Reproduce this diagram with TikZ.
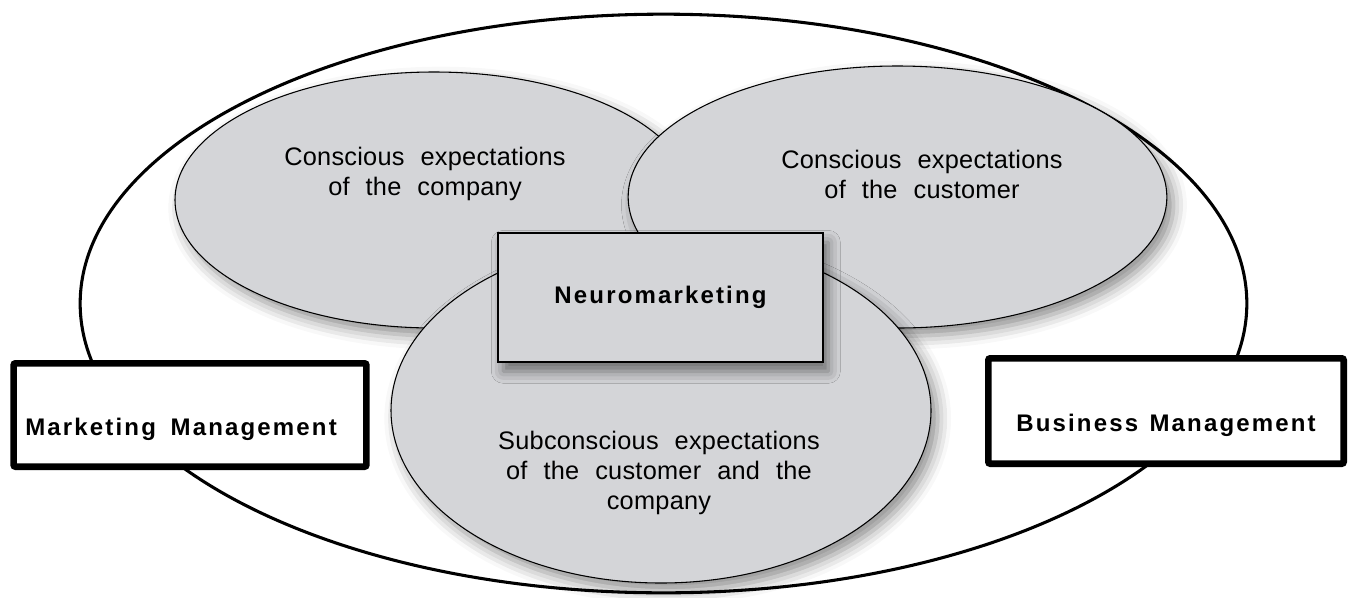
\documentclass[tikz,border=0pt]{standalone}
\usepackage{fontspec}
\setmainfont{Liberation Sans}
\newfontfamily\bubblefont{Liberation Sans}[LetterSpace=1,WordSpace=2.2]
\newfontfamily\boxfont{Liberation Sans}[LetterSpace=9,WordSpace=1.3]
\usetikzlibrary{shapes.geometric, shadows.blur}
\definecolor{bubblegray}{RGB}{212,213,216}

\begin{document}
\begin{tikzpicture}
  [x=0.75pt, y=-0.75pt,
  % ellipses
  bubble/.style = {ellipse,
    draw, line width=0.8pt,
    fill=bubblegray,
    blur shadow={shadow xshift=5pt, shadow yshift=-6pt,
      shadow blur radius=10pt, shadow opacity=45}},
  % text in the ellipses
  note/.style = {align=center,
    font=\bubblefont\fontsize{19}{22.5}\selectfont},
  % centre box
  neurobox/.style = {rectangle,
    draw, line width=1pt,
    fill=bubblegray,
    blur shadow={shadow xshift=4pt, shadow yshift=-7pt,
      shadow blur radius=9pt, shadow opacity=50},
    font=\boxfont\bfseries\fontsize{18}{22}\selectfont},
  % management boxes
  mgmt/.style = {rectangle,
    rounded corners=1.5pt,
    draw, line width=5pt,
    fill=white,
    text height=30pt, text depth=0pt,
    font=\boxfont\bfseries\fontsize{18}{22}\selectfont},
  ]

  \useasboundingbox (0,0) rectangle (1353,597);

  % outer ellipse
  \node [ellipse, draw, line width=2.3pt,
    minimum width=875pt, minimum height=434pt] (area) at (663.5,303.5) {};

  % ellipses
  \node [bubble, minimum width=388.5pt, minimum height=192pt] (company) at (434,200) {};
  \node [bubble, minimum width=404pt, minimum height=196.5pt] (customer) at (897.5,197) {};
  \node [bubble, minimum width=405pt, minimum height=258.75pt] (subconscious) at (661,410.5) {};

  % centre box
  \node [neurobox, minimum width=243.75pt, minimum height=96.75pt] (neuro) at (660.5,297.5) {Neuromarketing};

  % texts
  \node [note] (companytext) at (425,174) {Conscious expectations\\of the company};
  \node [note] (customertext) at (922,174) {Conscious expectations\\of the customer};
  \node [note] (subtext) at (659,473) {Subconscious expectations\\of the customer and the\\company};

  % management boxes
  \node [mgmt, align=left, inner xsep=8.8pt, text width=247pt,
    minimum height=77.5pt] (marketing) at (190,415) {Marketing\hspace{5pt} Management};
  \node [mgmt, minimum width=266.5pt, minimum height=79pt] (business) at (1166,411) {Business Management};

\end{tikzpicture}
\end{document}
